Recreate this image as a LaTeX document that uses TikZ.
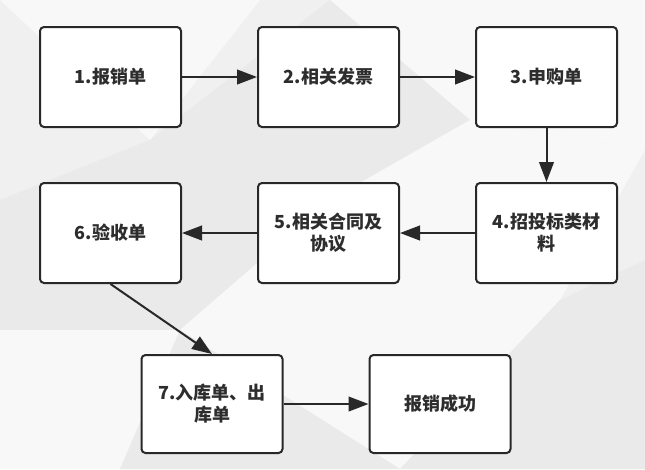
\documentclass[tikz,border=0pt]{standalone}
\usepackage{fontspec}
\setmainfont{Noto Sans CJK SC}
\usetikzlibrary{arrows.meta}

\definecolor{bgGray}{RGB}{240,240,240}
\definecolor{polyA}{RGB}{248,248,248}
\definecolor{polyB}{RGB}{234,234,234}
\definecolor{txtGray}{RGB}{45,45,45}
\definecolor{lineGray}{RGB}{40,40,40}

\tikzset{every picture/.style={line width=0.75pt}}
\tikzset{
  stepbox/.style={draw=lineGray, fill=white, line width=1.5pt, rounded corners=3pt,
    minimum width=105.75pt, minimum height=75pt, inner sep=0pt, align=center,
    text=txtGray, font=\fontsize{13.5}{16.5}\selectfont\bfseries},
  flow/.style={draw=lineGray, line width=1.5pt,
    -{Triangle[length=15pt,width=11pt]}}
}

\begin{document}
\begin{tikzpicture}[x=0.75pt,y=0.75pt,yscale=-1,xscale=1]
\useasboundingbox (0,0) rectangle (645,469);

%Background
\fill[bgGray] (0,0) rectangle (645,469);
\fill[polyA] (0,0) -- (260,0) -- (150,140) -- cycle;
\fill[polyA] (330,0) -- (645,0) -- (645,150) -- (470,120) -- cycle;
\fill[polyB] (150,140) -- (330,0) -- (470,120) -- (330,200) -- cycle;
\fill[polyA] (330,200) -- (470,120) -- (645,150) -- (560,300) -- cycle;
\fill[polyB] (0,200) -- (150,140) -- (330,200) -- (180,330) -- (0,330) -- cycle;
\fill[polyA] (330,200) -- (560,300) -- (400,469) -- (180,330) -- cycle;
\fill[polyB] (560,300) -- (645,260) -- (645,469) -- (400,469) -- cycle;
\fill[polyA] (0,330) -- (180,330) -- (120,469) -- (0,469) -- cycle;
\fill[polyB] (180,330) -- (400,469) -- (120,469) -- cycle;

% Text Node
\node[stepbox] (b1) at (110.5,77) {1.报销单};
% Text Node
\node[stepbox] (b2) at (328.5,77) {2.相关发票};
% Text Node
\node[stepbox] (b3) at (546.5,77) {3.申购单};
% Text Node
\node[stepbox] (b4) at (546.5,233) {4.招投标类材\\料};
% Text Node
\node[stepbox] (b5) at (328.5,233) {5.相关合同及\\协议};
% Text Node
\node[stepbox] (b6) at (110.5,233) {6.验收单};
% Text Node
\node[stepbox, minimum height=73.5pt] (b7) at (212,404) {7.入库单、出\\库单};
% Text Node
\node[stepbox, minimum height=73.5pt] (b8) at (440,404) {报销成功};

%Straight Lines
\draw[flow] (b1) -- (b2);
\draw[flow] (b2) -- (b3);
\draw[flow] (b3) -- (b4);
\draw[flow] (b4) -- (b5);
\draw[flow] (b5) -- (b6);
\draw[flow] (b6.south) -- (b7.north);
\draw[flow] (b7) -- (b8);

\end{tikzpicture}
\end{document}
